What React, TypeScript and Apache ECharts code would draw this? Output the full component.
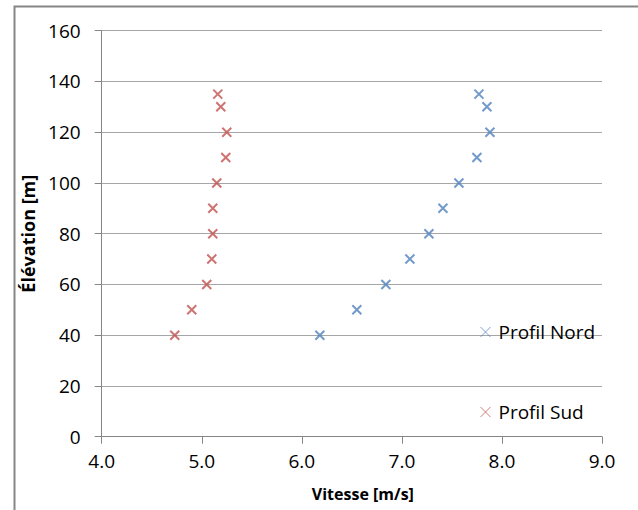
import React, { useEffect, useRef } from "react";
import * as echarts from "echarts";

const elevations = [40, 50, 60, 70, 80, 90, 100, 110, 120, 130, 135];
const nordVitesse = [6.18, 6.55, 6.84, 7.08, 7.27, 7.41, 7.57, 7.75, 7.88, 7.85, 7.77];
const sudVitesse = [4.73, 4.9, 5.05, 5.1, 5.11, 5.11, 5.15, 5.24, 5.25, 5.19, 5.16];
const seriesNames = ["Profil Nord", "Profil Sud"];
const xTicks = { min: 4, max: 9, interval: 1 };
const yTicks = { min: 0, max: 160, interval: 20 };

const CROSS = "path://M0,0L10,10M10,0L0,10";
const FONT = "'Open Sans', 'Noto Sans', sans-serif";

export default function App() {
  const ref = useRef<HTMLDivElement>(null);
  useEffect(() => {
    if (!ref.current) return;
    const chart = echarts.init(ref.current, undefined, { renderer: "svg" });
    const mk = (xs: number[]) => xs.map((x, i) => [x, elevations[i]]);
    const colors = ["#4F81BD", "#C0504D"];
    chart.setOption({
      animation: false,
      backgroundColor: "#ffffff",
      grid: { left: 101.7, right: 36, top: 30.7, bottom: 73.3 },
      xAxis: {
        type: "value",
        min: xTicks.min,
        max: xTicks.max,
        interval: xTicks.interval,
        name: "Vitesse [m/s]",
        nameLocation: "middle",
        nameGap: 49,
        nameTextStyle: {
          fontFamily: FONT,
          fontWeight: "bold",
          fontSize: 16,
          color: "#000",
          padding: [0, 0, 0, 22],
        },
        axisLine: { show: true, lineStyle: { color: "#868686", width: 1 } },
        axisTick: { show: true, inside: false, length: 7, lineStyle: { color: "#868686" } },
        axisLabel: {
          fontFamily: FONT,
          fontSize: 19,
          color: "#000",
          margin: 15,
          formatter: (v: number) => v.toFixed(1),
        },
        splitLine: { show: false },
      },
      yAxis: {
        type: "value",
        min: yTicks.min,
        max: yTicks.max,
        interval: yTicks.interval,
        name: "Élévation [m]",
        nameLocation: "middle",
        nameGap: 60,
        nameRotate: 90,
        nameTextStyle: { fontFamily: FONT, fontWeight: "bold", fontSize: 18, color: "#000" },
        axisLine: { show: true, lineStyle: { color: "#868686", width: 1 } },
        axisTick: { show: true, inside: false, length: 7, lineStyle: { color: "#868686" } },
        axisLabel: { fontFamily: FONT, fontSize: 19, color: "#000", margin: 21 },
        splitLine: { show: true, lineStyle: { color: "#a6a6a6", width: 1 } },
      },
      legend: {
        orient: "vertical",
        left: 480,
        top: 322,
        padding: 0,
        itemWidth: 10,
        itemHeight: 10,
        itemGap: 60,
        data: seriesNames.map((n, i) => ({
          name: n,
          icon: CROSS,
          itemStyle: { color: "transparent", borderColor: colors[i], borderWidth: 1, opacity: 0.75 },
        })),
        textStyle: {
          fontFamily: FONT,
          fontSize: 19,
          color: "#000",
          lineHeight: 20,
          padding: [0, 0, 0, 3],
        },
      },
      series: [
        {
          name: seriesNames[0],
          type: "scatter",
          data: mk(nordVitesse),
          symbol: CROSS,
          symbolSize: 9,
          itemStyle: { color: "transparent", borderColor: colors[0], borderWidth: 2 },
        },
        {
          name: seriesNames[1],
          type: "scatter",
          data: mk(sudVitesse),
          symbol: CROSS,
          symbolSize: 9,
          itemStyle: { color: "transparent", borderColor: colors[1], borderWidth: 2 },
        },
      ],
      graphic: [
        {
          type: "rect",
          left: 12,
          top: 4,
          shape: { x: 0, y: 0, width: 625, height: 520 },
          style: { fill: "none", stroke: "#868686", lineWidth: 2 },
          silent: true,
        },
      ],
    });
    return () => chart.dispose();
  }, []);
  return (
    <div
      ref={ref}
      style={{ position: "fixed", left: 0, top: 0, width: 638, height: 510 }}
    />
  );
}
